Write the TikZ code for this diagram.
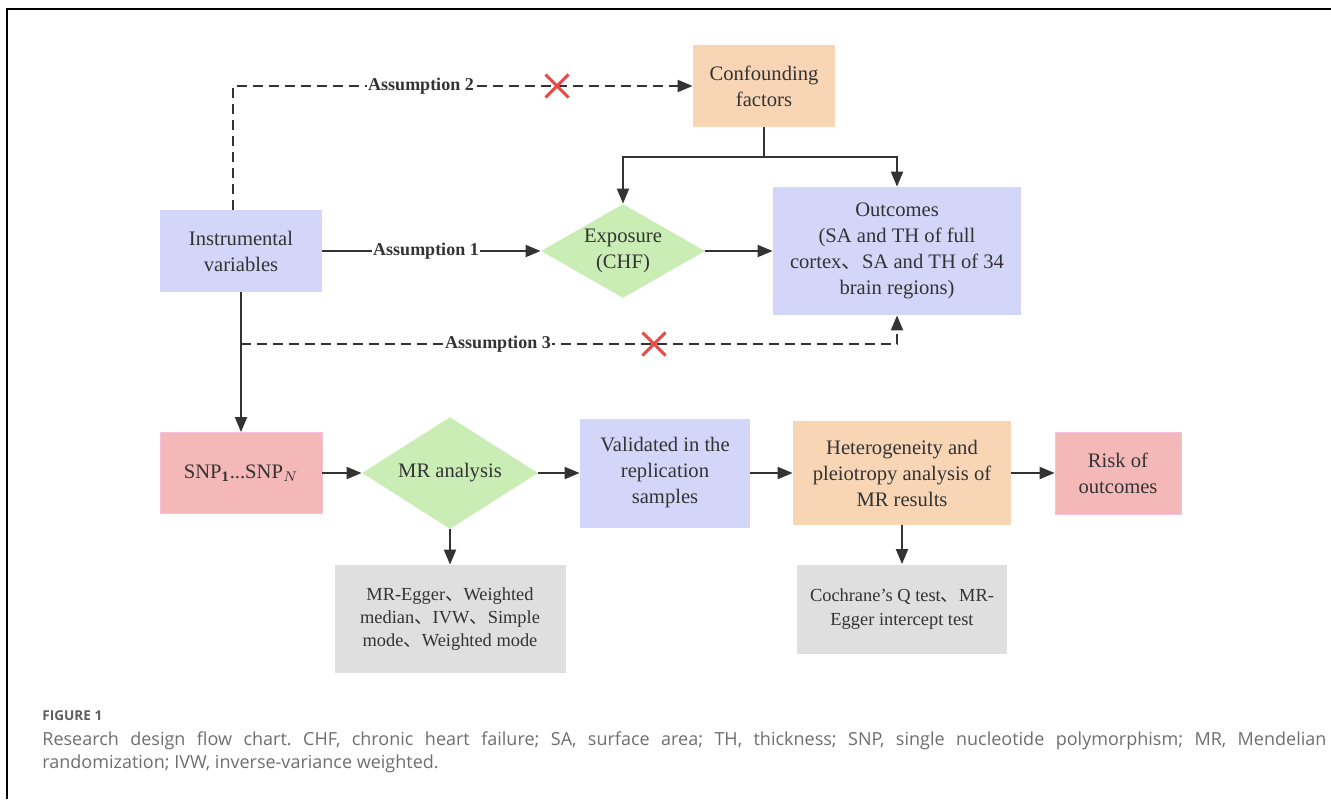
\documentclass[tikz,border=0pt]{standalone}
\usepackage{fontspec}
\setmainfont{Liberation Serif}
\newfontfamily\capfont{Open Sans}
\newfontfamily\cjk{Noto Sans CJK SC}
\usetikzlibrary{math,arrows.meta,shapes.geometric,shapes.misc}

\definecolor{ink}{HTML}{333333}
\definecolor{lav}{HTML}{D3D6F8}
\definecolor{peach}{HTML}{F8D5B5}
\definecolor{leaf}{HTML}{CAEDB5}
\definecolor{rose}{HTML}{F4B8B8}
\definecolor{roseline}{HTML}{F5BFE0}
\definecolor{ash}{HTML}{DFDFDF}
\definecolor{nored}{HTML}{E84A4A}
\definecolor{capgray}{HTML}{6E6E6E}
\newcommand{\dun}{{\cjk 、}}
\frenchspacing

\begin{document}
\begin{tikzpicture}[x=0.5pt,y=-0.5pt,
  every node/.style={text=ink,font=\fontsize{10.3}{13}\selectfont},
  box/.style={rectangle,inner sep=0pt,align=center},
  rhomb/.style={diamond,inner sep=-12pt,align=center,fill=leaf},
  conn/.style={draw=ink,line width=1pt,-{Triangle[length=7.5pt,width=6pt]}},
  dconn/.style={conn,dash pattern=on 5pt off 3pt},
  asm/.style={fill=white,inner sep=0.5pt,font=\bfseries\fontsize{9}{11}\selectfont},
  nope/.style={cross out,draw=nored,line width=1.5pt,minimum size=10pt,inner sep=0pt}]
  \tikzmath{
    real \rowA,\rowB,\rowC,\rowD;
    \rowA=86;
    \rowB=251;
    \rowC=344;
    \rowD=473;
  }
  \useasboundingbox (0,0) rectangle (1331,799);
  \draw[line width=1pt] (7,799) -- (7,9) -- (1331,9);

  % upper part
  \node[box,fill=peach,minimum width=71pt,minimum height=41pt] (conf) at (764,\rowA) {Confounding\\factors};
  \node[box,fill=lav,minimum width=81pt,minimum height=41pt] (iv) at (241,\rowB) {Instrumental\\variables};
  \node[rhomb,minimum width=82pt,minimum height=47pt] (expo) at (623,\rowB) {Exposure\\(CHF)};
  \node[box,fill=lav,minimum width=124pt,minimum height=64pt] (outc) at (897,\rowB)
    {Outcomes\\(SA and TH of full\\cortex\dun SA and TH of 34\\brain regions)};

  % lower part
  \node[box,fill=rose,draw=roseline,minimum width=81pt,minimum height=40.5pt] (snp) at (241,\rowD) {SNP$_{\mathbf{1}}$...SNP$_N$};
  \node[rhomb,minimum width=88pt,minimum height=56pt] (mr) at (450,\rowD) {MR analysis};
  \node[box,fill=lav,minimum width=85pt,minimum height=54.5pt] (valid) at (665,\rowD) {Validated in the\\replication\\samples};
  \node[box,fill=peach,minimum width=109pt,minimum height=52pt] (het) at (902,\rowD) {Heterogeneity and\\pleiotropy analysis of\\MR results};
  \node[box,fill=rose,draw=roseline,minimum width=63pt,minimum height=41pt] (risk) at (1118,\rowD) {Risk of\\outcomes};
  \node[box,fill=ash,minimum width=115.5pt,minimum height=54pt,font=\fontsize{9.2}{11.5}\selectfont] (egger) at (450,619)
    {MR-Egger\dun Weighted\\median\dun IVW\dun Simple\\mode\dun Weighted mode};
  \node[box,fill=ash,minimum width=105pt,minimum height=44.5pt,font=\fontsize{9.2}{12}\selectfont] (cochr) at (902,609)
    {Cochrane's Q test\dun MR-\\Egger intercept test};

  % connectors
  \coordinate (split) at (764,157);
  \coordinate (a2start) at (233,210);
  \coordinate (a3start) at (241,\rowC);
  \draw[line width=1pt,draw=ink] (conf) -- (split);
  \draw[conn] (split) -| (expo.north);
  \draw[conn] (split) -| (outc.north);
  \draw[conn] (iv) -- (expo);
  \draw[conn] (expo) -- (outc);
  \draw[conn] (iv) -- (snp);
  \draw[dconn] (a2start) |- (conf.west);
  \draw[dconn] (a3start) -| (outc.south);
  \draw[conn] (snp) -- (mr);
  \draw[conn] (mr) -- (valid);
  \draw[conn] (valid) -- (het);
  \draw[conn] (het) -- (risk);
  \draw[conn] (mr) -- (egger);
  \draw[conn] (het) -- (cochr);

  % assumption labels
  \node[asm] (asm1) at (426,\rowB) {Assumption 1};
  \node[asm] (asm2) at (421,\rowA) {Assumption 2};
  \node[asm] (asm3) at (498,\rowC) {Assumption 3};
  \node[nope] (x2) at (557,\rowA) {};
  \node[nope] (x3) at (654,\rowC) {};

  % caption
  \node[anchor=west,inner sep=0pt,text=capgray!85!black,font=\capfont\bfseries\fontsize{6.8}{8}\selectfont] (fig) at (42,716) {FIGURE 1};
  \node[anchor=north west,inner sep=0pt,text width=642pt,align=justify,text=capgray,font=\capfont\fontsize{9}{11.5}\selectfont] (cap) at (42,731)
    {Research design flow chart. CHF, chronic heart failure; SA, surface area; TH, thickness; SNP, single nucleotide polymorphism; MR, Mendelian\linebreak randomization; IVW, inverse-variance weighted.};
\end{tikzpicture}
\end{document}
